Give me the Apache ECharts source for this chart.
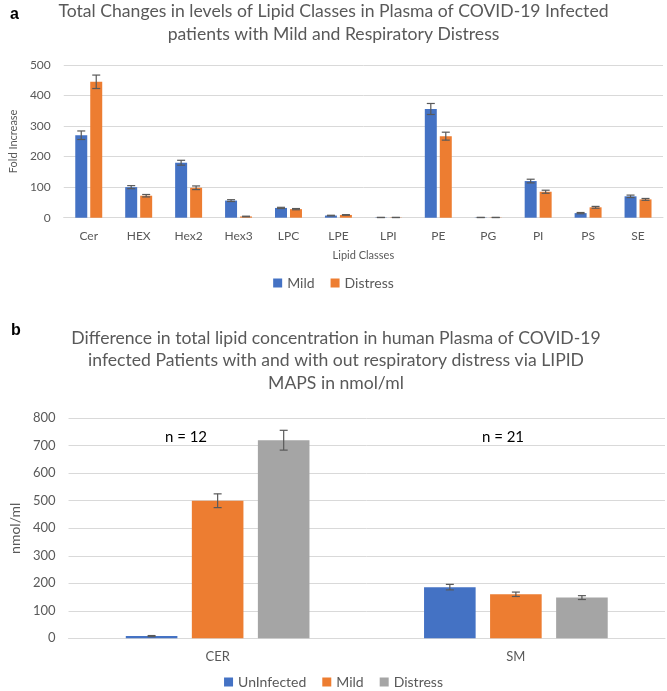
<!DOCTYPE html>
<html><head><meta charset="utf-8">
<script src="https://cdn.jsdelivr.net/npm/echarts@6/dist/echarts.min.js"></script>
<style>html,body{margin:0;padding:0;background:#fff}#c{width:667px;height:691px}</style>
</head><body><div id="c"></div>
<script>
// Panel a data
const catsA = ['Cer','HEX','Hex2','Hex3','LPC','LPE','LPI','PE','PG','PI','PS','SE'];
const mildA = [270,100,180,56,32,7,0.8,356,0.8,120,15,70];
const mildErrA = [14,5,8,3,2,1,0.4,18,0.4,6,2,4];
const distA = [445,72,98,4,28,9,0.8,267,0.8,85,34,60];
const distErrA = [22,4,6,1,2,1,0.4,13,0.4,5,3,3];
const ticksA = [0,100,200,300,400,500];
// Panel b data
const catsB = ['CER','SM'];
const uninfB = [8,186];
const uninfErrB = [2,10];
const mildB = [500,160];
const mildErrB = [25,8];
const distB = [720,148];
const distErrB = [36,7];
const ticksB = [0,100,200,300,400,500,600,700,800];
const nLabels = ['n = 12','n = 21'];
const titleA = ['Total Changes in levels of Lipid Classes in Plasma of COVID-19 Infected','patients with Mild and Respiratory Distress'];
const titleB = ['Difference in total lipid concentration in human Plasma of COVID-19','infected Patients with and with out respiratory distress via LIPID','MAPS in nmol/ml'];

const BLUE='#4472C4', ORANGE='#ED7D31', GRAY='#A5A5A5', TXT='#595959', GRID='#D9D9D9';
const FONT='Lato, "Liberation Sans", sans-serif';

function errSeries(name, xIdx, yIdx, vals, errs, idx, n, bwFrac, gapFrac, cap){
  return {
    type:'custom', name:name+'_err', xAxisIndex:xIdx, yAxisIndex:yIdx, z:10, clip:false,
    silent:true,
    data: vals.map((v,i)=>[i, v, errs[i]]),
    renderItem:function(params, api){
      const catW = api.size([1,0])[0];
      const bw = catW*bwFrac;
      const total = n*bw + (n-1)*gapFrac*bw;
      const off = -total/2 + bw/2 + idx*bw*(1+gapFrac);
      const x = api.coord([api.value(0),0])[0] + off;
      const v = api.value(1), e = api.value(2);
      const yt = api.coord([api.value(0), v+e])[1];
      const yb = api.coord([api.value(0), v-e])[1];
      const st = {stroke:'#595959', lineWidth:1.2};
      return {type:'group', children:[
        {type:'line', shape:{x1:x,y1:yt,x2:x,y2:yb}, style:st},
        {type:'line', shape:{x1:x-cap,y1:yt,x2:x+cap,y2:yt}, style:st},
        {type:'line', shape:{x1:x-cap,y1:yb,x2:x+cap,y2:yb}, style:st}
      ]};
    }
  };
}

const titleFont = '17.6px ' + FONT;
const graphics = [];
titleA.forEach((t,i)=>graphics.push({type:'text', x:333.5, y:11+23*i, style:{text:t, font:titleFont, fill:TXT, align:'center', verticalAlign:'middle'}}));
titleB.forEach((t,i)=>graphics.push({type:'text', x:336, y:338+22.5*i, style:{text:t, font:titleFont, fill:TXT, align:'center', verticalAlign:'middle'}}));
graphics.push({type:'text', x:10, y:15, style:{text:'a', font:'bold 16px "Liberation Sans", Arial, sans-serif', fill:'#000', verticalAlign:'middle'}});
graphics.push({type:'text', x:11, y:331, style:{text:'b', font:'bold 16px "Liberation Sans", Arial, sans-serif', fill:'#000', verticalAlign:'middle'}});
graphics.push({type:'text', x:186, y:437, style:{text:nLabels[0], font:'15px '+FONT, fill:'#000', align:'center', verticalAlign:'middle'}});
graphics.push({type:'text', x:503, y:437, style:{text:nLabels[1], font:'15px '+FONT, fill:'#000', align:'center', verticalAlign:'middle'}});

const chart = echarts.init(document.getElementById('c'));
const BWA=0.24, GAPA=0.25, BWB=0.173, GAPB=0.28;
chart.setOption({
  animation:false,
  textStyle:{fontFamily:FONT},
  legend:[
    {data:['Mild','Distress'], left:'center', top:271, itemWidth:9, itemHeight:9, itemGap:16, icon:'rect',
     textStyle:{fontFamily:FONT, fontSize:14, color:TXT}},
    {data:['UnInfected','Mild ','Distress '], left:'center', top:670, itemWidth:9, itemHeight:9, itemGap:16, icon:'rect',
     formatter:n=>n.trim(),
     textStyle:{fontFamily:FONT, fontSize:14, color:TXT}}
  ],
  grid:[
    {left:56, right:4, top:65, height:152.7},
    {left:63, right:2, top:418.2, height:220.1}
  ],
  xAxis:[
    {type:'category', gridIndex:0, data:catsA, name:'Lipid Classes', nameLocation:'middle', nameGap:32,
     nameTextStyle:{fontSize:11, color:TXT},
     axisLine:{lineStyle:{color:GRID}}, axisTick:{show:false},
     axisLabel:{fontSize:12, color:TXT, margin:12}},
    {type:'category', gridIndex:1, data:catsB,
     axisLine:{lineStyle:{color:GRID}}, axisTick:{show:false},
     axisLabel:{fontSize:13, color:TXT, margin:12}}
  ],
  yAxis:[
    {type:'value', gridIndex:0, min:0, max:500, interval:100, name:'Fold Increase', nameLocation:'middle', nameGap:38,
     nameTextStyle:{fontSize:11, color:TXT},
     axisLabel:{fontSize:12, color:TXT, margin:13, formatter:v=>ticksA.includes(v)?String(v):''},
     splitLine:{lineStyle:{color:GRID}}, axisLine:{show:false}},
    {type:'value', gridIndex:1, min:0, max:800, interval:100, name:'nmol/ml', nameLocation:'middle', nameGap:40,
     nameTextStyle:{fontSize:14, color:TXT},
     axisLabel:{fontSize:13, color:TXT, margin:13, formatter:v=>ticksB.includes(v)?String(v):''},
     splitLine:{lineStyle:{color:GRID}}, axisLine:{show:false}}
  ],
  graphic:graphics,
  series:[
    {type:'bar', name:'Mild', xAxisIndex:0, yAxisIndex:0, data:mildA, barWidth:(BWA*100)+'%', barGap:(GAPA*100)+'%', itemStyle:{color:BLUE}},
    {type:'bar', name:'Distress', xAxisIndex:0, yAxisIndex:0, data:distA, barWidth:(BWA*100)+'%', barGap:(GAPA*100)+'%', itemStyle:{color:ORANGE}},
    errSeries('MildA',0,0,mildA,mildErrA,0,2,BWA,GAPA,4),
    errSeries('DistA',0,0,distA,distErrA,1,2,BWA,GAPA,4),
    {type:'bar', name:'UnInfected', xAxisIndex:1, yAxisIndex:1, data:uninfB, barWidth:(BWB*100)+'%', barGap:(GAPB*100)+'%', itemStyle:{color:BLUE}},
    {type:'bar', name:'Mild ', xAxisIndex:1, yAxisIndex:1, data:mildB, barWidth:(BWB*100)+'%', barGap:(GAPB*100)+'%', itemStyle:{color:ORANGE}},
    {type:'bar', name:'Distress ', xAxisIndex:1, yAxisIndex:1, data:distB, barWidth:(BWB*100)+'%', barGap:(GAPB*100)+'%', itemStyle:{color:GRAY}},
    errSeries('UnB',1,1,uninfB,uninfErrB,0,3,BWB,GAPB,4),
    errSeries('MildB',1,1,mildB,mildErrB,1,3,BWB,GAPB,4),
    errSeries('DistB',1,1,distB,distErrB,2,3,BWB,GAPB,4)
  ]
});
</script></body></html>
